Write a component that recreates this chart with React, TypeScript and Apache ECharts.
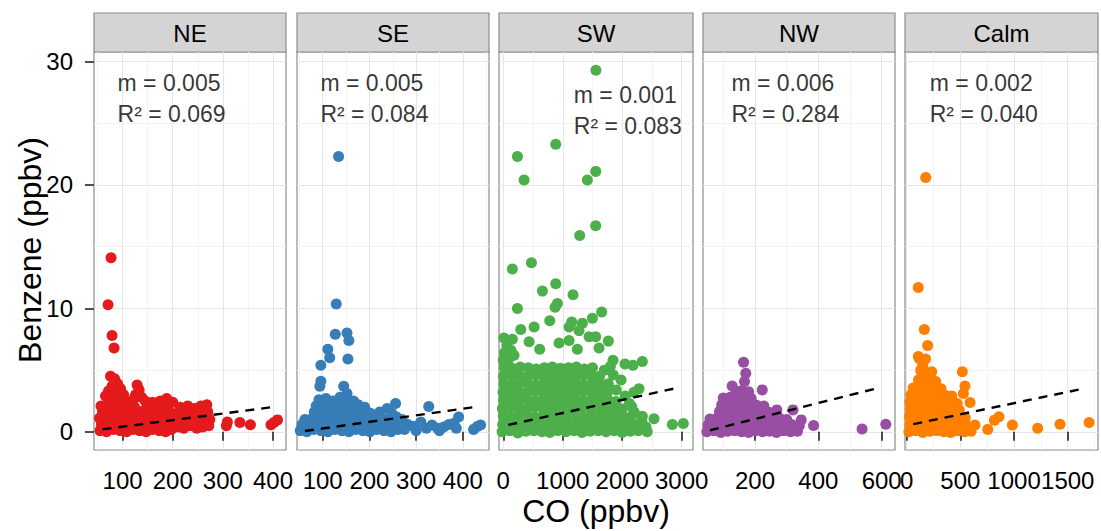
import React, { useEffect, useRef } from "react";
import * as echarts from "echarts";

const FONT = "'Liberation Sans', Arial, Helvetica, sans-serif";

// ---------- data ----------
const panelNames = ["NE", "SE", "SW", "NW", "Calm"];
const panelColors = ["#e41a1c", "#377eb8", "#4daf4a", "#984ea3", "#ff7f00"];
const slopeLabels = ["0.005", "0.005", "0.001", "0.006", "0.002"];
const r2Labels = ["0.069", "0.084", "0.083", "0.284", "0.040"];

const xMins = [43, 45, -72, 36, -16];
const xMaxs = [426, 456, 3190, 642, 1782];
const xMajorTicks = [
  [100, 200, 300, 400],
  [100, 200, 300, 400],
  [0, 1000, 2000, 3000],
  [200, 400, 600],
  [0, 500, 1000, 1500],
];
const xMinorTicks = [
  [50, 150, 250, 350],
  [50, 150, 250, 350, 450],
  [500, 1500, 2500],
  [100, 300, 500],
  [250, 750, 1250, 1750],
];
const yMin = -1.47;
const yMax = 30.77;
const yMajorTicks = [0, 10, 20, 30];
const yMinorTicks = [5, 15, 25];

// annotation anchor (data units: CO, benzene)
const annotationAnchors = [
  [89, 27.0],
  [94, 27.0],
  [1177, 26.0],
  [124, 27.0],
  [210, 27.0],
];

// regression line end points [CO, benzene]
const fitNE = [[60, 0.21], [400, 2.01]];
const fitSE = [[62, 0.07], [426, 2.01]];
const fitSW = [[84, 0.56], [2941, 3.58]];
const fitNW = [[58, 0.13], [593, 3.58]];
const fitCalm = [[61, 0.62], [1646, 3.5]];

const pointsNE = [
  [77, 14.1], [71, 10.3], [79, 7.8], [83, 6.8],
  [76, 4.5], [84, 4.3], [90, 3.9], [96, 3.5], [79, 3.7], [72, 3.3], [102, 3.0], [88, 3.1], [66, 2.9],
  [129, 3.8], [133, 3.4], [126, 3.0], [138, 2.8], [121, 2.6],
  [55, 0.1], [68, 0.0], [82, 0.2], [95, 0.1], [108, 0.0], [121, 0.2], [134, 0.1], [147, 0.0], [160, 0.2], [173, 0.1], [186, 0.0], [197, 0.2],
  [58, 0.6], [72, 0.7], [86, 0.5], [99, 0.7], [113, 0.6], [127, 0.5], [140, 0.7], [153, 0.6], [167, 0.5], [180, 0.7], [193, 0.6],
  [54, 1.1], [65, 1.2], [78, 1.0], [92, 1.2], [105, 1.1], [118, 1.0], [131, 1.2], [145, 1.1], [158, 1.0], [171, 1.2], [184, 1.1], [198, 1.0],
  [60, 1.6], [74, 1.7], [87, 1.5], [100, 1.7], [114, 1.6], [128, 1.5], [142, 1.7], [156, 1.6], [169, 1.5], [182, 1.7], [194, 1.6],
  [57, 2.1], [70, 2.2], [84, 2.0], [97, 2.2], [111, 2.1], [124, 2.0], [150, 2.1], [164, 2.0], [178, 2.2], [190, 2.1],
  [79, 2.5], [93, 2.6], [108, 2.4], [145, 2.5], [160, 2.4], [175, 2.5], [188, 2.7], [200, 2.4],
  [210, 0.4], [222, 0.3], [235, 0.5], [248, 0.3], [260, 0.4], [272, 0.5],
  [212, 0.9], [225, 1.0], [238, 0.8], [250, 1.0], [263, 0.9], [274, 1.0],
  [209, 1.5], [220, 1.6], [233, 1.4], [246, 1.6], [258, 1.5], [270, 1.6],
  [215, 2.0], [230, 2.1], [243, 1.9], [256, 2.1], [268, 2.2],
  [307, 0.5], [309, 0.8], [334, 0.75], [355, 0.57], [396, 0.57], [402, 0.75], [409, 0.97],
];

const pointsSE = [
  [134, 22.3], [129, 10.35], [127, 7.9], [152, 8.0], [156, 7.4], [111, 6.7], [115, 6.0], [96, 5.4], [154, 5.9],
  [96, 4.1], [94, 3.7], [145, 3.7], [152, 3.1], [327, 2.05], [256, 2.3], [238, 1.9],
  [52, 0.1], [66, 0.0], [81, 0.2], [96, 0.1], [111, 0.0], [126, 0.2], [141, 0.1], [156, 0.0], [171, 0.2], [186, 0.1], [201, 0.0], [216, 0.2], [231, 0.1], [246, 0.0], [261, 0.2],
  [56, 0.6], [72, 0.7], [88, 0.5], [103, 0.7], [118, 0.6], [133, 0.5], [148, 0.7], [163, 0.6], [178, 0.5], [193, 0.7], [208, 0.6], [223, 0.5], [238, 0.7], [253, 0.6],
  [62, 1.0], [78, 1.1], [93, 1.2], [108, 1.0], [123, 1.2], [138, 1.1], [153, 1.0], [168, 1.2], [183, 1.1], [198, 1.0], [213, 1.2], [228, 1.1], [244, 1.0], [258, 1.2],
  [82, 1.6], [97, 1.7], [112, 1.5], [127, 1.7], [142, 1.6], [157, 1.5], [172, 1.7], [187, 1.6], [202, 1.5], [222, 1.6], [248, 1.5],
  [86, 2.1], [101, 2.2], [116, 2.0], [131, 2.2], [146, 2.1], [161, 2.0], [176, 2.2], [190, 2.0],
  [92, 2.6], [107, 2.7], [122, 2.5], [137, 2.8], [152, 2.6], [166, 2.5],
  [270, 1.0], [275, 0.2], [282, 0.6], [295, 0.45], [300, 0.1], [310, 0.8], [322, 0.3], [334, 0.56], [346, 0.3], [350, 0.1],
  [359, 0.4], [370, 0.6], [381, 0.7], [386, 0.3], [391, 1.2], [423, 0.2], [431, 0.43], [438, 0.56],
];

const pointsSW = [
  [1558, 29.3], [882, 23.3], [238, 22.3], [350, 20.4], [1554, 21.1], [1414, 20.4], [1554, 16.7], [1285, 15.9],
  [153, 13.2], [473, 13.7], [658, 11.4], [882, 12.0], [1173, 11.1], [910, 10.4], [871, 10.1], [238, 10.0],
  [1655, 9.7], [1498, 9.2], [1330, 8.8], [1151, 8.9], [1106, 8.5], [1274, 8.2], [781, 9.0], [518, 8.5], [294, 8.3],
  [1442, 7.7], [1554, 7.7], [1767, 7.35], [938, 7.2], [1106, 7.4], [1246, 6.7], [613, 6.7], [434, 7.3], [153, 7.5],
  [1845, 5.8], [2047, 5.5], [2181, 5.4], [2338, 5.7], [2282, 3.5], [2198, 3.2], [2159, 2.05], [2338, 1.27],
  [2534, 1.06], [2843, 0.6], [3027, 0.67], [1610, 6.8],
  [10, 7.6], [60, 7.0], [20, 6.4], [130, 6.6], [0, 5.8], [90, 5.9], [180, 6.2],
  [-20, 0.0], [110, 0.1], [245, -0.1], [380, 0.05], [515, 0.1], [650, 0.0], [785, -0.05], [920, 0.1], [1055, 0.0], [1190, 0.1], [1325, -0.05], [1460, 0.05], [1595, 0.1], [1730, 0.0], [1865, 0.1], [2000, -0.05], [2135, 0.05], [2270, 0.1],
  [-10, 0.6], [120, 0.7], [255, 0.6], [390, 0.7], [525, 0.65], [660, 0.6], [795, 0.7], [930, 0.6], [1065, 0.7], [1200, 0.65], [1335, 0.6], [1470, 0.7], [1605, 0.6], [1740, 0.7], [1875, 0.65], [2010, 0.6], [2145, 0.7], [2290, 0.65],
  [0, 1.3], [130, 1.25], [265, 1.35], [400, 1.3], [535, 1.2], [670, 1.3], [805, 1.35], [940, 1.25], [1075, 1.3], [1210, 1.35], [1345, 1.2], [1480, 1.3], [1615, 1.25], [1750, 1.35], [1885, 1.3], [2020, 1.2], [2160, 1.3],
  [-15, 1.9], [115, 2.0], [250, 1.95], [385, 1.9], [520, 2.0], [655, 1.95], [790, 1.9], [925, 2.0], [1060, 1.9], [1195, 1.95], [1330, 2.0], [1465, 1.9], [1600, 1.95], [1735, 2.0], [1870, 1.9], [2000, 1.85],
  [5, 2.6], [140, 2.55], [275, 2.65], [410, 2.6], [545, 2.5], [680, 2.6], [815, 2.65], [950, 2.55], [1085, 2.6], [1220, 2.65], [1355, 2.5], [1490, 2.6], [1625, 2.55], [1760, 2.6], [1895, 2.45],
  [-5, 3.2], [125, 3.3], [260, 3.25], [395, 3.2], [530, 3.3], [665, 3.2], [800, 3.25], [935, 3.3], [1070, 3.2], [1205, 3.25], [1340, 3.3], [1475, 3.2], [1610, 3.25], [1745, 3.15],
  [10, 3.9], [145, 3.85], [280, 3.95], [415, 3.9], [550, 3.8], [685, 3.9], [820, 3.95], [955, 3.85], [1090, 3.9], [1225, 3.95], [1360, 3.8], [1495, 3.9], [1630, 3.85], [1765, 3.9],
  [0, 4.5], [135, 4.6], [270, 4.55], [405, 4.5], [540, 4.6], [675, 4.5], [810, 4.55], [945, 4.6], [1080, 4.5], [1215, 4.55], [1350, 4.6], [1485, 4.5], [1620, 4.5],
  [15, 5.2], [150, 5.15], [285, 5.25], [420, 5.2], [555, 5.1], [690, 5.2], [825, 5.25], [960, 5.15], [1095, 5.2], [1230, 5.25], [1365, 5.1], [1500, 5.2],
  [1900, 3.4], [2050, 2.9], [2120, 2.3], [1980, 4.2], [1850, 4.6], [2200, 1.6], [2330, 0.9], [2400, 0.4], [2420, 0.0], [1700, 5.0], [1800, 5.3],
];

const pointsNW = [
  [164, 5.63], [171, 4.74], [167, 4.07], [128, 3.72], [223, 3.4], [320, 1.78], [269, 1.78], [346, 0.97], [385, 0.51], [538, 0.24], [613, 0.62],
  [48, 0.0], [70, 0.1], [92, -0.05], [114, 0.05], [136, 0.1], [158, 0.0], [180, -0.05], [202, 0.1], [224, 0.0], [246, 0.05], [268, -0.05], [290, 0.1], [312, 0.0], [334, 0.05],
  [52, 0.55], [74, 0.6], [96, 0.5], [118, 0.6], [140, 0.55], [162, 0.5], [184, 0.6], [206, 0.55], [228, 0.5], [250, 0.6], [272, 0.55], [294, 0.5], [316, 0.6], [340, 0.5],
  [58, 1.05], [80, 1.1], [102, 1.15], [124, 1.1], [146, 1.05], [168, 1.15], [190, 1.1], [212, 1.05], [234, 1.1], [256, 1.15], [278, 1.1], [300, 1.0],
  [88, 1.65], [110, 1.6], [132, 1.7], [154, 1.65], [176, 1.6], [198, 1.7], [220, 1.65], [242, 1.6], [262, 1.55],
  [95, 2.2], [117, 2.25], [139, 2.15], [161, 2.2], [183, 2.25], [205, 2.15], [228, 2.1],
  [100, 2.75], [122, 2.8], [144, 2.7], [166, 2.8], [188, 2.7],
  [140, 3.3], [160, 3.35], [180, 3.25],
];

const pointsCalm = [
  [177, 20.6], [108, 11.7], [164, 8.3], [195, 7.0], [108, 6.1], [120, 5.9], [518, 4.87], [543, 3.72], [528, 3.1], [590, 2.37],
  [233, 4.87], [270, 4.07], [636, 0.56], [755, 0.2], [817, 0.95], [860, 1.23], [984, 0.56], [1220, 0.29], [1428, 0.62], [1699, 0.75],
  [150, 5.4], [175, 5.9], [130, 5.0],
  [20, 0.0], [85, 0.1], [150, -0.05], [215, 0.05], [280, 0.1], [345, 0.0], [410, -0.05], [475, 0.1], [540, 0.0], [600, 0.05],
  [30, 0.6], [95, 0.55], [160, 0.65], [225, 0.6], [290, 0.55], [355, 0.65], [420, 0.6], [485, 0.55], [550, 0.6],
  [25, 1.2], [90, 1.25], [155, 1.15], [220, 1.2], [285, 1.25], [350, 1.15], [415, 1.2], [480, 1.25], [545, 1.15],
  [35, 1.8], [100, 1.75], [165, 1.85], [230, 1.8], [295, 1.75], [360, 1.85], [425, 1.8], [490, 1.75],
  [30, 2.4], [95, 2.45], [160, 2.35], [225, 2.4], [290, 2.45], [355, 2.35], [420, 2.4], [470, 2.3],
  [40, 3.0], [105, 3.05], [170, 2.95], [235, 3.0], [300, 3.05], [365, 2.95], [420, 2.9],
  [60, 3.55], [120, 3.6], [185, 3.65], [250, 3.6], [320, 3.5],
  [110, 4.2], [175, 4.25], [240, 4.15],
  [140, 4.8], [200, 4.75],
];

const panelPoints = [pointsNE, pointsSE, pointsSW, pointsNW, pointsCalm];
const panelFits = [fitNE, fitSE, fitSW, fitNW, fitCalm];

// ---------- layout ----------
const PANEL_LEFT = [94, 297, 499, 703, 905];
const PANEL_W = [192, 192, 194, 192, 193];
const PANEL_TOP = 52;
const PANEL_H = 398;
const STRIP_TOP = 13;
const TEXT_COLOR = "#000";

function buildOption() {
  const grids: any[] = [];
  const xAxes: any[] = [];
  const yAxes: any[] = [];
  const series: any[] = [];
  const graphics: any[] = [];

  panelNames.forEach((name, i) => {
    grids.push({
      left: PANEL_LEFT[i],
      top: PANEL_TOP,
      width: PANEL_W[i],
      height: PANEL_H,
      show: true,
      backgroundColor: "#ffffff",
      borderColor: "#8c8c8c",
      borderWidth: 1.2,
      containLabel: false,
      outerBoundsMode: "none",
    });

    xAxes.push({
      type: "value",
      gridIndex: i,
      min: xMins[i],
      max: xMaxs[i],
      position: "bottom",
      axisLine: { show: false },
      axisTick: {
        show: true,
        length: 9,
        customValues: xMajorTicks[i],
        lineStyle: { color: "#222", width: 1.6 },
      },
      axisLabel: {
        show: true,
        customValues: xMajorTicks[i],
        formatter: (v: number) => String(v),
        fontSize: 24,
        color: TEXT_COLOR,
        fontFamily: FONT,
        margin: 18,
      },
      splitLine: { show: true, lineStyle: { color: "#e6e6e6", width: 1 } },
    });
    xAxes.push({
      type: "value",
      gridIndex: i,
      min: xMins[i],
      max: xMaxs[i],
      position: "bottom",
      axisLine: { show: false },
      axisTick: { show: false, customValues: xMinorTicks[i] },
      axisLabel: { show: false },
      splitLine: { show: true, lineStyle: { color: "#f3f3f3", width: 1 } },
    });

    yAxes.push({
      type: "value",
      gridIndex: i,
      min: yMin,
      max: yMax,
      position: "left",
      axisLine: { show: false },
      axisTick: {
        show: i === 0,
        length: 9,
        customValues: yMajorTicks,
        lineStyle: { color: "#222", width: 1.6 },
      },
      axisLabel: {
        show: i === 0,
        customValues: yMajorTicks,
        formatter: (v: number) => String(v),
        fontSize: 24,
        color: TEXT_COLOR,
        fontFamily: FONT,
        margin: 21,
      },
      splitLine: { show: true, lineStyle: { color: "#e6e6e6", width: 1 } },
    });
    yAxes.push({
      type: "value",
      gridIndex: i,
      min: yMin,
      max: yMax,
      position: "left",
      axisLine: { show: false },
      axisTick: { show: false, customValues: yMinorTicks },
      axisLabel: { show: false },
      splitLine: { show: true, lineStyle: { color: "#f3f3f3", width: 1 } },
    });

    series.push({
      type: "scatter",
      name: name,
      xAxisIndex: 2 * i,
      yAxisIndex: 2 * i,
      data: panelPoints[i],
      symbol: "circle",
      symbolSize: 11,
      itemStyle: { color: panelColors[i], opacity: 1 },
      silent: true,
      z: 3,
    });
    series.push({
      type: "line",
      name: name + " fit",
      xAxisIndex: 2 * i,
      yAxisIndex: 2 * i,
      data: panelFits[i],
      symbol: "none",
      lineStyle: { color: "#000", width: 2.4, type: [9, 7] },
      silent: true,
      z: 4,
    });
    series.push({
      type: "scatter",
      name: name + " label",
      xAxisIndex: 2 * i,
      yAxisIndex: 2 * i,
      data: [annotationAnchors[i]],
      symbolSize: 1,
      itemStyle: { color: "rgba(0,0,0,0)" },
      silent: true,
      z: 5,
      label: {
        show: true,
        position: "right",
        distance: 0,
        formatter: "m = " + slopeLabels[i] + "\nR\u00B2 = " + r2Labels[i],
        fontSize: 23,
        lineHeight: 31,
        color: TEXT_COLOR,
        fontFamily: FONT,
        align: "left",
        verticalAlign: "middle",
      },
    });

    graphics.push({
      type: "rect",
      shape: { x: PANEL_LEFT[i], y: STRIP_TOP, width: PANEL_W[i], height: PANEL_TOP - STRIP_TOP },
      style: { fill: "#d4d4d4", stroke: "#8c8c8c", lineWidth: 1.2 },
      silent: true,
    });
    graphics.push({
      type: "text",
      x: PANEL_LEFT[i] + PANEL_W[i] / 2,
      y: (STRIP_TOP + PANEL_TOP) / 2 + 1,
      style: {
        text: name,
        fontSize: 24,
        fontFamily: FONT,
        fill: TEXT_COLOR,
        textAlign: "center",
        textVerticalAlign: "middle",
      },
      silent: true,
    });
  });

  graphics.push({
    type: "text",
    x: 30,
    y: 250,
    rotation: Math.PI / 2,
    style: {
      text: "Benzene (ppbv)",
      fontSize: 32,
      fontFamily: FONT,
      fill: TEXT_COLOR,
      textAlign: "center",
      textVerticalAlign: "middle",
    },
    silent: true,
  });
  graphics.push({
    type: "text",
    x: 596,
    y: 511,
    style: {
      text: "CO (ppbv)",
      fontSize: 32,
      fontFamily: FONT,
      fill: TEXT_COLOR,
      textAlign: "center",
      textVerticalAlign: "middle",
    },
    silent: true,
  });

  return {
    animation: false,
    backgroundColor: "#ffffff",
    grid: grids,
    xAxis: xAxes,
    yAxis: yAxes,
    series,
    graphic: graphics,
  };
}

export default function App() {
  const ref = useRef<HTMLDivElement>(null);
  useEffect(() => {
    const chart = echarts.init(ref.current as HTMLDivElement, null, { renderer: "svg" });
    chart.setOption(buildOption() as any);
    return () => {
      chart.dispose();
    };
  }, []);
  return (
    <div
      ref={ref}
      style={{ position: "absolute", left: 0, top: 0, width: 1101, height: 531, background: "#fff" }}
    />
  );
}
